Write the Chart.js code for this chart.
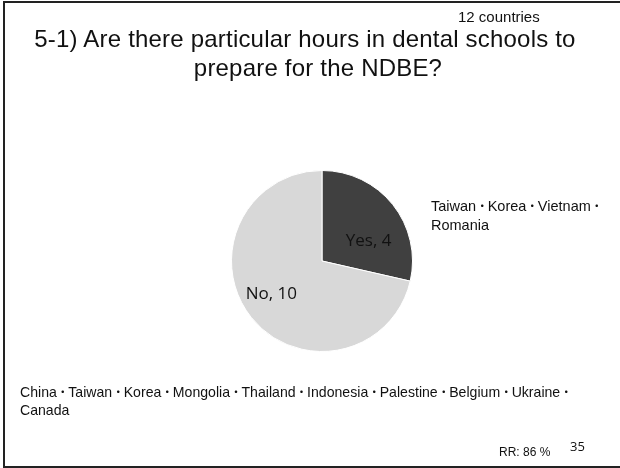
<!DOCTYPE html>
<html>
<head>
<meta charset="utf-8">
<script src="https://cdn.jsdelivr.net/npm/chart.js@4.4.1/dist/chart.umd.min.js"></script>
<style>
  html, body { margin: 0; padding: 0; background: #fff; }
  #slide { position: relative; width: 620px; height: 468px; overflow: hidden; font-family: "Liberation Sans", Arial, "Noto Sans CJK JP", sans-serif; color: #111; }
  #frame { position: absolute; left: 3px; top: 1px; width: 640px; height: 467px; border: 2px solid #222; box-sizing: border-box; }
  canvas { position: absolute; left: 0; top: 0; }
  .t { position: absolute; white-space: nowrap; }
  .title { font-size: 24px; line-height: 29px; letter-spacing: 0.2px; text-align: center; width: 600px; }
  #title1 { left: 5px; top: 24px; }
  #title2 { left: 18px; top: 53px; }
  #count { left: 458px; top: 8px; font-size: 15px; }
  #yesList { left: 431px; top: 196px; font-size: 14.5px; line-height: 19px; }
  #noList { left: 20px; top: 383px; font-size: 14.1px; line-height: 18px; }
  .dot { display: inline-block; width: 11.5px; text-align: center; font-family: "Noto Sans CJK JP", sans-serif; font-size: 12px; }
  #rr { left: 499px; top: 445px; font-size: 12px; }
  #page { left: 570px; top: 437px; font-size: 13px; font-family: "Open Sans", sans-serif; }
</style>
</head>
<body>
<div id="slide">
  <div id="frame"></div>
  <canvas id="pie" width="620" height="468"></canvas>
  <div class="t" id="count">12 countries</div>
  <div class="t title" id="title1">5-1) Are there particular hours in dental schools to</div>
  <div class="t title" id="title2">prepare for the NDBE?</div>
  <div class="t" id="yesList"></div>
  <div class="t" id="noList"></div>
  <div class="t" id="rr">RR: 86 %</div>
  <div class="t" id="page">35</div>
</div>
<script>
// answers and counts
const answers = ['Yes', 'No'];
const counts = [4, 10];
const yesCountries = ['Taiwan', 'Korea', 'Vietnam', 'Romania'];
const noCountries = ['China', 'Taiwan', 'Korea', 'Mongolia', 'Thailand', 'Indonesia', 'Palestine', 'Belgium', 'Ukraine', 'Canada'];

// country lists wrap like on the slide
const dot = '<span class="dot">・</span>';
document.getElementById('yesList').innerHTML =
    yesCountries.slice(0, 3).join(dot) + dot + '<br>' + yesCountries.slice(3).join(dot);
document.getElementById('noList').innerHTML =
    noCountries.slice(0, 9).join(dot) + dot + '<br>' + noCountries.slice(9).join(dot);

// where inside each slice the label sits (fraction of the arc, fraction of radius)
const labelPos = [[0.65, 0.56], [0.52, 0.67]];

const sliceLabels = {
    id: 'sliceLabels',
    afterDatasetsDraw(chart) {
        const ctx = chart.ctx;
        const meta = chart.getDatasetMeta(0);
        ctx.save();
        ctx.font = '17px "Open Sans", sans-serif';
        ctx.textAlign = 'center';
        ctx.textBaseline = 'middle';
        meta.data.forEach((arc, i) => {
            const p = arc.getProps(['x', 'y', 'startAngle', 'endAngle', 'outerRadius'], true);
            const a = p.startAngle + (p.endAngle - p.startAngle) * labelPos[i][0];
            const r = p.outerRadius * labelPos[i][1];
            ctx.fillStyle = '#111';
            ctx.fillText(answers[i] + ', ' + counts[i], p.x + Math.cos(a) * r, p.y + Math.sin(a) * r);
        });
        ctx.restore();
    }
};

new Chart(document.getElementById('pie'), {
    type: 'pie',
    data: {
        labels: answers,
        datasets: [{
            data: counts,
            backgroundColor: ['#404040', '#d8d8d8'],
            borderColor: '#ffffff',
            borderWidth: 1
        }]
    },
    options: {
        responsive: false,
        animation: false,
        layout: { padding: { left: 231, right: 207, top: 170, bottom: 116 } },
        plugins: {
            legend: { display: false },
            tooltip: { enabled: false }
        }
    },
    plugins: [sliceLabels]
});
</script>
</body>
</html>
